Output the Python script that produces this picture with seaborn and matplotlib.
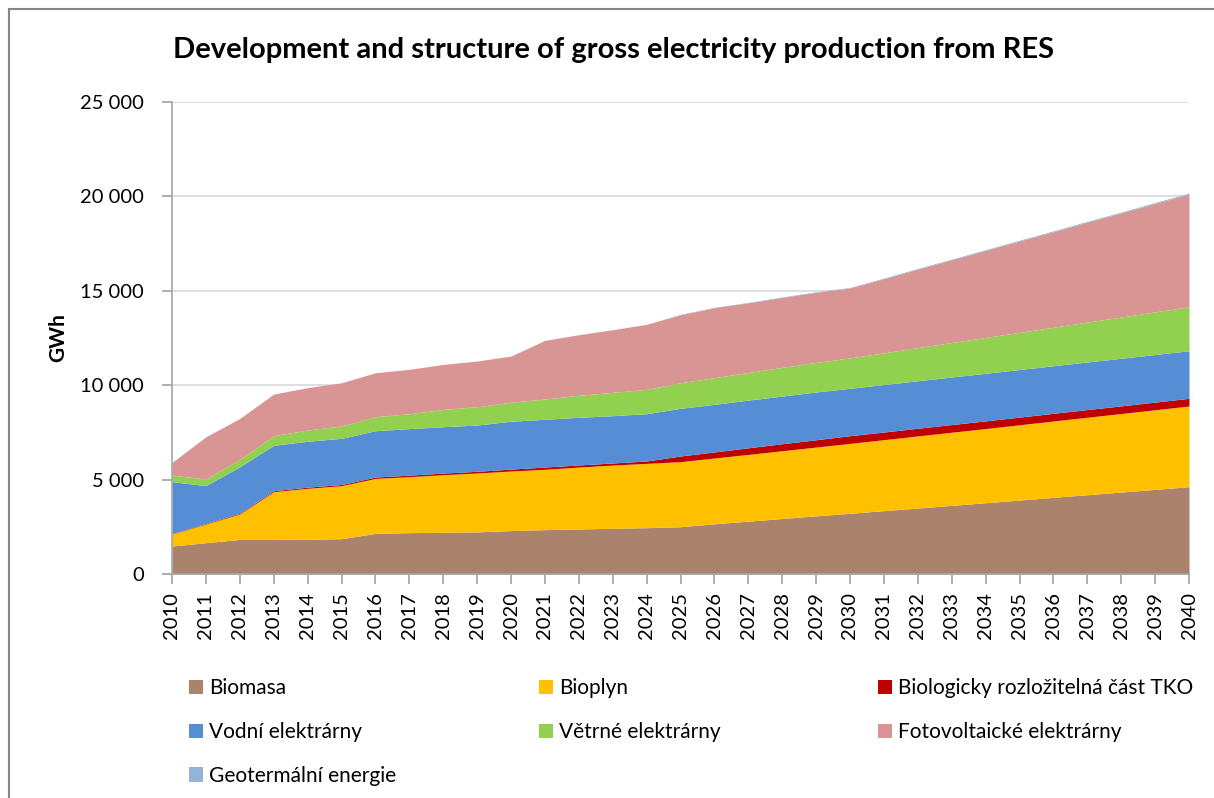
import numpy as np
import pandas as pd
import matplotlib.pyplot as plt
import seaborn as sns
from matplotlib.patches import Patch, Rectangle
from matplotlib.ticker import FuncFormatter

# Data (GWh)
years = list(range(2010, 2041))

biomasa = [1480, 1660, 1830, 1830, 1840, 1870, 2150, 2190, 2210, 2230,
           2300, 2350, 2385, 2420, 2455, 2505, 2660, 2800, 2940, 3080,
           3215, 3355, 3495, 3635, 3775, 3915, 4060, 4200, 4340, 4480, 4625]
bioplyn = [640, 990, 1350, 2530, 2700, 2810, 2915, 2965, 3050, 3120,
           3155, 3195, 3280, 3350, 3405, 3445, 3485, 3535, 3590, 3645,
           3705, 3760, 3820, 3875, 3930, 3990, 4045, 4105, 4160, 4220, 4275]
tko = [20, 30, 40, 50, 60, 60, 70, 80, 85, 90,
       100, 120, 110, 110, 125, 300, 320, 350, 370, 385,
       405, 405, 405, 405, 405, 405, 405, 405, 405, 405, 405]
vodni = [2750, 2000, 2460, 2405, 2430, 2445, 2455, 2465, 2455, 2450,
         2535, 2530, 2525, 2505, 2505, 2525, 2520, 2525, 2525, 2530,
         2510, 2515, 2515, 2520, 2520, 2520, 2520, 2520, 2520, 2520, 2520]
vetrne = [350, 350, 390, 515, 595, 655, 740, 790, 920, 970,
          1010, 1075, 1165, 1235, 1290, 1355, 1415, 1465, 1520, 1570,
          1610, 1680, 1755, 1825, 1900, 1970, 2040, 2115, 2185, 2260, 2330]
foto = [670, 2240, 2170, 2200, 2245, 2290, 2330, 2350, 2380, 2420,
        2445, 3105, 3210, 3320, 3445, 3605, 3705, 3690, 3705, 3710,
        3705, 3930, 4160, 4385, 4610, 4840, 5065, 5290, 5515, 5745, 5970]
geo = [0, 0, 0, 0, 0, 0, 0, 0, 0, 0,
       0, 0, 0, 0, 0, 20, 20, 25, 25, 30,
       30, 30, 35, 35, 40, 40, 40, 45, 45, 50, 50]

labels = ['Biomasa', 'Bioplyn', 'Biologicky rozložitelná část TKO',
          'Vodní elektrárny', 'Větrné elektrárny', 'Fotovoltaické elektrárny',
          'Geotermální energie']
colors = ['#AB836D', '#FFC000', '#C00000', '#558ED5', '#92D050', '#D99594', '#95B3D7']

df = pd.DataFrame({'rok': years, labels[0]: biomasa, labels[1]: bioplyn, labels[2]: tko,
                   labels[3]: vodni, labels[4]: vetrne, labels[5]: foto, labels[6]: geo})

sns.set_theme(style='white')
plt.rcParams['font.family'] = ['Lato', 'DejaVu Sans']
plt.rcParams['text.color'] = 'black'
plt.rcParams['axes.labelcolor'] = 'black'
plt.rcParams['xtick.labelcolor'] = 'black'
plt.rcParams['ytick.labelcolor'] = 'black'

fig = plt.figure(figsize=(12.14, 7.98), dpi=100)
ax = fig.add_axes([172 / 1214, 1 - 574 / 798, 1017 / 1214, 472 / 798])

ax.stackplot(df['rok'], *[df[c] for c in labels], colors=colors, linewidth=0, zorder=2)

ax.set_xlim(2010, 2040)
ax.set_ylim(0, 25000)
ax.set_xticks(years)
ax.set_xticklabels([str(y) for y in years], rotation=90, fontsize=14.5)
ax.set_yticks(range(0, 25001, 5000))
ax.yaxis.set_major_formatter(FuncFormatter(lambda v, p: f'{int(v):,}'.replace(',', ' ')))
ax.tick_params(axis='y', labelsize=14.5, length=7, color='#A6A6A6', direction='out', pad=13)
ax.tick_params(axis='x', length=7, color='#A6A6A6', direction='out', pad=6)
ax.tick_params(left=True, bottom=True)

ax.grid(axis='y', color='#D9D9D9', linewidth=1.2, zorder=0)
ax.set_axisbelow(True)
for s in ['top', 'right']:
    ax.spines[s].set_visible(False)
for s in ['left', 'bottom']:
    ax.spines[s].set_color('#A6A6A6')
    ax.spines[s].set_linewidth(1.2)

ax.set_ylabel('GWh', fontsize=15, fontweight='bold')
ax.yaxis.set_label_coords(-0.102, 0.5)

fig.text(0.505, 0.937, 'Development and structure of gross electricity production from RES',
         ha='center', va='center', fontsize=21, fontweight='bold')

# Legend: three columns, row order as in the original
handles = [Patch(facecolor=c, edgecolor='none') for c in colors]
cols = [[0, 3, 6], [1, 4], [2, 5]]
col_x = [189, 539, 878]
for idx, cx in zip(cols, col_x):
    fig.legend([handles[i] for i in idx], [labels[i] for i in idx],
               loc='upper left', bbox_to_anchor=(cx / 1214, 1 - 678 / 798),
               frameon=False, fontsize=15, handlelength=0.68, handleheight=0.68,
               handletextpad=0.3, labelspacing=1.15, borderpad=0, borderaxespad=0)

# Chart area border
fig.patches.append(Rectangle((9 / 1214, -0.05), 1.2, 1 - 9 / 798 + 0.05,
                             transform=fig.transFigure, fill=False,
                             edgecolor='#868686', linewidth=1.5))

plt.savefig('out.png', dpi=100)
plt.close()
